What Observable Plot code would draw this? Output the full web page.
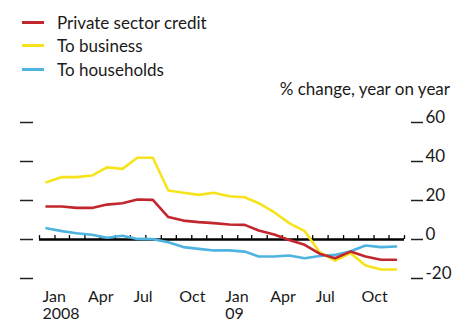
<!DOCTYPE html>
<html><head><meta charset="utf-8">
<script src="https://cdn.jsdelivr.net/npm/d3@7"></script>
<script src="https://cdn.jsdelivr.net/npm/@observablehq/plot@0.6"></script>
<style>
body{margin:0;background:#fff;font-family:Lato,"Open Sans",sans-serif;color:#1a1a1a;}
#wrap{position:relative;width:455px;height:322px;overflow:hidden;}
#wrap svg{position:absolute;left:0;top:0;}
.leg{position:absolute;left:22px;height:20px;display:flex;align-items:center;font-size:17px;white-space:nowrap;}
.sw{width:22px;height:3px;margin-right:13px;}
#unit{position:absolute;right:5px;top:79px;font-size:17px;line-height:20px;white-space:nowrap;}
</style></head><body><div id="wrap"></div>
<script>
const months = ["2008-01","2008-02","2008-03","2008-04","2008-05","2008-06","2008-07","2008-08","2008-09","2008-10","2008-11","2008-12",
                "2009-01","2009-02","2009-03","2009-04","2009-05","2009-06","2009-07","2009-08","2009-09","2009-10","2009-11","2009-12"];
const privateCredit = [16.9,16.9,16.2,16.2,17.9,18.6,20.5,20.3,11.5,9.7,8.9,8.4,7.7,7.5,4.6,2.6,-0.3,-2.7,-7.3,-9.6,-6.2,-8.7,-10.4,-10.4];
const toBusiness   = [29.4,32,32,32.8,37,36.2,41.9,41.9,25.1,24,22.9,24,22.2,21.7,18.6,14,8.4,4.3,-6.5,-10.8,-7,-13.3,-15.4,-15.4];
const toHouseholds = [5.8,4.3,3.2,2.4,0.9,1.9,0.3,0.2,-1.4,-3.9,-4.8,-5.6,-5.6,-6.2,-8.7,-8.7,-8.2,-9.6,-8.5,-7.9,-6,-3.1,-3.9,-3.6];
const seriesNames = ["Private sector credit","To business","To households"];
const seriesColors = ["#c1272d","#f7e31b","#4fb3df"];
const yTicks = [-20,0,20,40,60];
const xLabelMonths = ["2008-01","2008-04","2008-07","2008-10","2009-01","2009-04","2009-07","2009-10"];
const xLabelTexts = ["Jan\n2008","Apr","Jul","Oct","Jan\n09","Apr","Jul","Oct"];
const unitLabel = "% change, year on year";

const mid = s => { const [y,m] = s.split("-").map(Number); return new Date(Date.UTC(y, m-1, 15)); };
const start = s => { const [y,m] = s.split("-").map(Number); return new Date(Date.UTC(y, m-1, 1)); };
const seriesValues = [privateCredit, toBusiness, toHouseholds];
const table = seriesValues.map((vals,i) => months.map((m,j) => ({date: mid(m), value: vals[j], series: seriesNames[i]})));
const x0 = new Date(Date.UTC(2008,0,1)), x1 = new Date(Date.UTC(2010,0,1));
const monthTicks = d3.utcMonth.range(x0, d3.utcMonth.offset(x1,1));
const xLabels = xLabelMonths.map((m,i) => ({date: start(m), text: xLabelTexts[i]}));

const chart = Plot.plot({
  width: 455, height: 322,
  marginTop: 122, marginBottom: 44, marginLeft: 39, marginRight: 51,
  x: {type: "utc", domain: [x0, x1], axis: null},
  y: {domain: [-20, 60], axis: null},
  style: {fontFamily: "Lato, 'Open Sans', sans-serif", fontSize: "17px", background: "transparent", color: "#1a1a1a"},
  marks: [
    Plot.axisY(yTicks, {anchor: "left", tickSize: 13, dx: -6, tickFormat: () => "", label: null, stroke: "#222", strokeWidth: 1.5}),
    Plot.axisY(yTicks, {anchor: "right", tickSize: 12, dx: 6, tickFormat: () => "", label: null, stroke: "#222", strokeWidth: 1.5}),
    Plot.text(yTicks, {y: d => d, text: d => String(d), frameAnchor: "right", dx: 21, textAnchor: "start", lineAnchor: "bottom", fontSize: 17, fill: "#1a1a1a"}),
    Plot.ruleY([0], {stroke: "#000", strokeWidth: 2.5}),
    Plot.ruleX(monthTicks, {x: d => d, y1: 0, y2: 2, stroke: "#000", strokeWidth: 1.3}),
    Plot.line(table[2], {x: "date", y: "value", stroke: seriesColors[2], strokeWidth: 2.6}),
    Plot.line(table[1], {x: "date", y: "value", stroke: seriesColors[1], strokeWidth: 2.6}),
    Plot.line(table[0], {x: "date", y: "value", stroke: seriesColors[0], strokeWidth: 2.6}),
    Plot.text(xLabels, {x: "date", text: "text", frameAnchor: "bottom", lineAnchor: "top", textAnchor: "start", dx: 3, dy: 11, lineHeight: 1.08, fontSize: 16, fill: "#1a1a1a"})
  ]
});
const wrap = document.getElementById("wrap");
wrap.appendChild(chart);
seriesNames.forEach((n,i) => {
  const d = document.createElement("div");
  d.className = "leg";
  d.style.top = (12 + i*23.5) + "px";
  const sw = document.createElement("span"); sw.className = "sw"; sw.style.background = seriesColors[i];
  const t = document.createElement("span"); t.textContent = n;
  d.appendChild(sw); d.appendChild(t); wrap.appendChild(d);
});
const u = document.createElement("div"); u.id = "unit"; u.textContent = unitLabel; wrap.appendChild(u);
</script></body></html>
